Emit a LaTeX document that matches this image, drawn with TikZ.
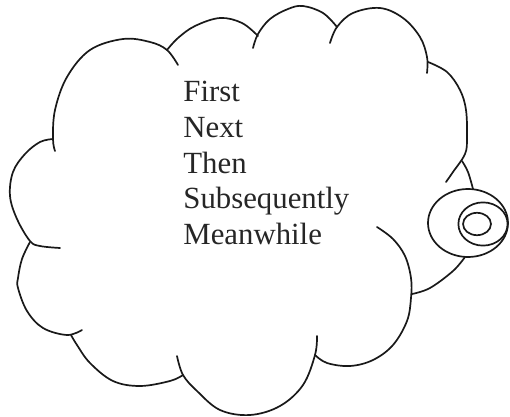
\documentclass[tikz,border=0pt]{standalone}
\usepackage{fontspec}
\setmainfont{Liberation Serif}
\tikzset{
  lobe/.style={line width=0.85pt, draw=black!90, line cap=round},
  word/.style={anchor=base west, inner sep=0pt, font=\fontsize{15.4}{18}\selectfont, text=black!85}
}
\begin{document}
\begin{tikzpicture}[x=0.5pt, y=-0.5pt]
\useasboundingbox (0,0) rectangle (510,417);
% upper-left lobe
\draw[lobe] plot[smooth, tension=0.6] coordinates {(55,151) (53,139) (55,110) (67,77) (90,50) (123,39) (150,42) (167,50) (178,65)};
% top lobes
\draw[lobe] plot[smooth, tension=0.6] coordinates {(167,50) (178,38) (195,26) (220,18) (242,23) (258,36)};
\draw[lobe] plot[smooth, tension=0.6] coordinates {(253,48) (258,34) (270,19) (288,9) (303,6) (323,13) (337,27)};
\draw[lobe] plot[smooth, tension=0.6] coordinates {(330,43) (337,27) (353,13) (380,8) (403,18) (420,37) (427,57) (427,73)};
% right lobe
\draw[lobe] plot[smooth, tension=0.6] coordinates {(428,62) (447,72) (460,90) (466,110) (467,138) (465,154) (453,172) (446,182)};
% thought bubbles
\draw[lobe] (468,223) ellipse [x radius=20pt, y radius=17pt];
\draw[lobe] (483,224) ellipse [x radius=12.3pt, y radius=10.8pt];
\draw[lobe] (477,224) ellipse [x radius=7pt, y radius=5.6pt];
% tail
\draw[lobe] plot[smooth, tension=0.6] coordinates {(462,161) (468,172) (473,189)};
\draw[lobe] plot[smooth, tension=0.6] coordinates {(465,257) (453,271) (430,288) (412,294)};
% lower right lobe
\draw[lobe] plot[smooth, tension=0.6] coordinates {(377,227) (393,239) (405,256) (411,278) (411,298) (407,321) (393,345) (373,360) (350,366) (327,363) (315,355)};
% bottom lobe
\draw[lobe] plot[smooth, tension=0.6] coordinates {(317,336) (315,355) (303,385) (280,406) (250,415) (220,410) (197,391) (183,375) (177,356)};
% lower-left lobe
\draw[lobe] plot[smooth, tension=0.6] coordinates {(183,375) (170,381) (140,386) (113,381) (90,363) (77,345) (71,335)};
% left lower lobe
\draw[lobe] plot[smooth, tension=0.6] coordinates {(82,330) (67,335) (43,328) (27,311) (18,288) (18,278) (22,259) (30,242)};
% left middle lobe
\draw[lobe] plot[smooth, tension=0.6] coordinates {(60,248) (40,246) (30,241) (17,219) (10,196) (13,172) (25,154) (40,142) (53,139)};
% text
\node[word] (w1) at (183,102) {First};
\node[word] (w2) at (183,138) {Next};
\node[word] (w3) at (183,174) {Then};
\node[word] (w4) at (183,209) {Subsequently};
\node[word] (w5) at (183,245) {Meanwhile};
\end{tikzpicture}
\end{document}
